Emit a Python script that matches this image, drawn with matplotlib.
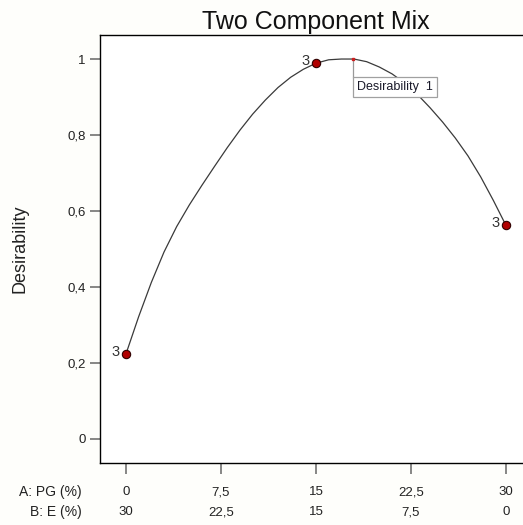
import numpy as np
import matplotlib.pyplot as plt
from matplotlib.patches import Rectangle

plt.rcParams['font.family'] = ['Liberation Sans', 'DejaVu Sans']

# design points (A: PG %), B = 30 - A
pg_pts = [0, 15, 30]
des_pts = [0.224, 0.99, 0.562]
reps = ['3', '3', '3']

# predicted desirability along the mix line
pg_curve = [0, 1, 2, 3, 4, 5, 6, 7, 8, 9, 10, 11, 12, 13, 14, 15,
            16, 17, 18, 19, 20, 21, 22, 23, 24, 25, 26, 27, 28, 29, 30]
des_curve = [0.224, 0.322, 0.412, 0.492, 0.559, 0.616, 0.668, 0.718,
             0.767, 0.813, 0.855, 0.892, 0.925, 0.952, 0.973, 0.989,
             0.998, 1.0, 1.0, 0.993, 0.979, 0.961, 0.937, 0.907,
             0.872, 0.834, 0.792, 0.745, 0.690, 0.628, 0.562]

tip_pg = 17.9
tip_des = 1.0

a_ticks = [0, 7.5, 15, 22.5, 30]
a_labels = ['0', '7,5', '15', '22,5', '30']
b_labels = ['30', '22,5', '15', '7,5', '0']
y_ticks = [0, 0.2, 0.4, 0.6, 0.8, 1.0]
y_labels = ['0', '0,2', '0,4', '0,6', '0,8', '1']

bg = '#fefefb'
fig = plt.figure(figsize=(5.23, 5.25), dpi=100, facecolor=bg)
ax = fig.add_axes([0.1912, 0.1181, 0.826, 0.8152])
ax.set_facecolor('white')

ax.plot(pg_curve, des_curve, color='#3a3a3a', lw=0.9, zorder=2)
ax.plot(pg_pts, des_pts, 'o', ms=6, mfc='#b00000', mec='#300000', mew=0.8, zorder=3)
for x, y, r in zip(pg_pts, des_pts, reps):
    ax.annotate(r, (x, y), xytext=(-4.5, 1.5), textcoords='offset points',
                ha='right', va='center', fontsize=10.5, color='#333333')

# value box at the optimum
ax.plot(tip_pg, tip_des, 's', ms=1.5, color='#cc2020', zorder=4)
ax.plot([tip_pg, tip_pg], [tip_des, 0.953], color='#999999', lw=0.9, zorder=3)
ax.add_patch(Rectangle((tip_pg, 0.901), 6.63, 0.052, facecolor='white',
                       edgecolor='#a0a0a0', lw=0.9, zorder=4))
ax.text(tip_pg + 0.3, 0.927, 'Desirability  1', fontsize=9, color='#1a1a2a',
        ha='left', va='center', zorder=5)

ax.set_xlim(-2.053, 32.053)
ax.set_ylim(-0.0632, 1.0632)
ax.set_yticks(y_ticks)
ax.set_yticklabels(y_labels, fontsize=9.5, color='#222222')
ax.set_xticks(a_ticks)
ax.set_xticklabels([])
ax.tick_params(axis='y', length=7.2, width=1.1, color='#666666', pad=3)
ax.tick_params(axis='x', length=8, width=1.1, color='#666666')
for s in ax.spines.values():
    s.set_linewidth(1.0)
    s.set_color('black')

trans = ax.get_xaxis_transform()
for x, la, lb in zip(a_ticks, a_labels, b_labels):
    ax.text(x, -0.068, la, transform=trans, ha='center', va='center',
            fontsize=9.5, color='#222222')
    ax.text(x, -0.1145, lb, transform=trans, ha='center', va='center',
            fontsize=9.5, color='#222222')
ax.text(-0.0417, -0.068, 'A: PG (%)', transform=ax.transAxes, ha='right',
        va='center', fontsize=10, color='#222222')
ax.text(-0.0417, -0.1145, 'B: E (%)', transform=ax.transAxes, ha='right',
        va='center', fontsize=10, color='#222222')

ax.text(-0.185, 0.5, 'Desirability', transform=ax.transAxes, rotation=90,
        ha='center', va='center', fontsize=13, color='#222222')
ax.set_title('Two Component Mix', fontsize=18, pad=4, color='#111111')

fig.savefig('out.png', dpi=100, facecolor=bg)
